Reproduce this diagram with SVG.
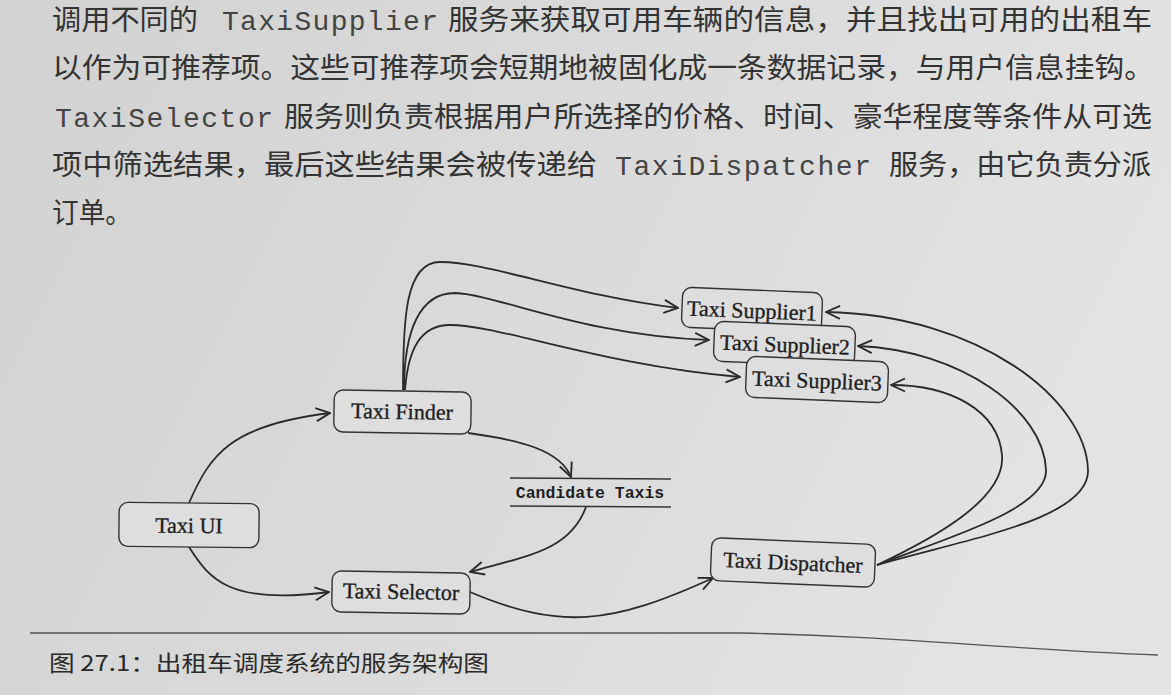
<svg xmlns="http://www.w3.org/2000/svg" width="1171" height="695" viewBox="0 0 1171 695">
<defs>
<linearGradient id="bg" x1="0" y1="0" x2="1" y2="0.3">
<stop offset="0" stop-color="#d2d2d2"/>
<stop offset="0.6" stop-color="#dbdbdb"/>
<stop offset="1" stop-color="#e3e3e3"/>
</linearGradient>
<marker id="arr" viewBox="0 0 16 16" refX="15" refY="8" markerWidth="16" markerHeight="16" markerUnits="userSpaceOnUse" orient="auto">
<path d="M1,1.5 L15,8 L1,14.5" fill="none" stroke="#2b2b2b" stroke-width="1.9" stroke-linejoin="miter"/>
</marker>
</defs>
<style>
.body{font-family:"Noto Sans CJK SC",sans-serif;font-size:28px;fill:#333;}
.mono{font-family:"Liberation Mono",monospace;font-size:28px;fill:#444;}
.node rect{fill:#dedede;stroke:#333;stroke-width:1.4;}
.node text{font-family:"Liberation Serif",serif;font-size:22px;fill:#1e1e1e;stroke:#1e1e1e;stroke-width:0.35;text-anchor:middle;}
.conn path{fill:none;stroke:#2b2b2b;stroke-width:1.8;marker-end:url(#arr);}
.cap{font-family:"Noto Sans CJK SC",sans-serif;font-size:22px;fill:#2a2a2a;}
</style>
<rect x="0" y="0" width="1171" height="695" fill="url(#bg)"/>

<!-- body text -->
<text class="body" x="52" y="30" textLength="146" lengthAdjust="spacingAndGlyphs">调用不同的</text>
<text class="mono" x="222" y="30" textLength="216" lengthAdjust="spacing">TaxiSupplier</text>
<text class="body" x="448" y="30" textLength="704" lengthAdjust="spacingAndGlyphs">服务来获取可用车辆的信息，并且找出可用的出租车</text>
<text class="body" x="52" y="78" textLength="1102" lengthAdjust="spacingAndGlyphs">以作为可推荐项。这些可推荐项会短期地被固化成一条数据记录，与用户信息挂钩。</text>
<text class="mono" x="55" y="127" textLength="218" lengthAdjust="spacing">TaxiSelector</text>
<text class="body" x="284" y="127" textLength="868" lengthAdjust="spacingAndGlyphs">服务则负责根据用户所选择的价格、时间、豪华程度等条件从可选</text>
<text class="body" x="52" y="175" textLength="545" lengthAdjust="spacingAndGlyphs">项中筛选结果，最后这些结果会被传递给</text>
<text class="mono" x="615" y="175" textLength="256" lengthAdjust="spacing">TaxiDispatcher</text>
<text class="body" x="889" y="175" textLength="262" lengthAdjust="spacingAndGlyphs">服务，由它负责分派</text>
<text class="body" x="52" y="223" textLength="80" lengthAdjust="spacingAndGlyphs">订单。</text>

<!-- connectors -->
<g id="connectors" class="conn">
<path d="M189,503 C210,455 230,425 330,413"/>
<path d="M189,547 C210,580 230,605 329,592"/>
<path d="M468,433 C520,440 560,450 571,477"/>
<path d="M586,507 C570,550 530,555 470,572"/>
<path d="M470,592 C560,630 610,625 713,578"/>
<path d="M403,390 C403,320 405,262 440,262 C490,262 570,295 678,308"/>
<path d="M404,390 C404,330 420,293 455,293 C500,295 580,335 709,340"/>
<path d="M405,390 C408,350 420,325 450,325 C500,325 600,365 740,377"/>
<path d="M877,565 C960,540 1090,520 1088,470 C1086,400 980,315 826,312"/>
<path d="M877,565 C940,540 1048,510 1046,470 C1044,410 960,350 858,346"/>
<path d="M877,565 C930,540 1006,500 1002,455 C998,410 950,385 891,385"/>
</g>

<!-- nodes -->
<g id="taxi-ui" class="node" transform="rotate(0.6 189 525)">
<rect x="119" y="503" width="140" height="44" rx="9"/>
<text x="189" y="533">Taxi UI</text>
</g>
<g id="taxi-finder" class="node" transform="rotate(1 402 412)">
<rect x="334" y="391" width="137" height="42" rx="9"/>
<text x="402" y="419">Taxi Finder</text>
</g>
<g id="taxi-selector" class="node" transform="rotate(1 401 592)">
<rect x="332" y="572" width="138" height="41" rx="9"/>
<text x="401" y="599">Taxi Selector</text>
</g>
<g id="candidate-taxis" class="node">
<line x1="510" y1="478" x2="671" y2="479" stroke="#333" stroke-width="1.4"/>
<line x1="510" y1="506" x2="671" y2="507" stroke="#333" stroke-width="1.4"/>
<text x="590" y="498" style="font-family:'Liberation Mono',monospace;font-weight:bold;font-size:16.5px;stroke-width:0;">Candidate Taxis</text>
</g>
<g id="taxi-supplier1" class="node" transform="rotate(2.3 752 310)">
<rect x="682" y="290" width="140" height="40" rx="9"/>
<text x="752" y="318">Taxi Supplier1</text>
</g>
<g id="taxi-supplier2" class="node" transform="rotate(2.3 785 344)">
<rect x="714" y="324" width="141" height="40" rx="9"/>
<text x="785" y="352">Taxi Supplier2</text>
</g>
<g id="taxi-supplier3" class="node" transform="rotate(2.3 817 380)">
<rect x="746" y="359" width="142" height="41" rx="9"/>
<text x="817" y="388">Taxi Supplier3</text>
</g>
<g id="taxi-dispatcher" class="node" transform="rotate(2.4 793 562)">
<rect x="711" y="541" width="164" height="43" rx="9"/>
<text x="793" y="570">Taxi Dispatcher</text>
</g>

<!-- caption -->
<path d="M30,633 L740,633 C900,636 1000,649 1158,655" fill="none" stroke="#555" stroke-width="1.3"/>
<text class="cap" x="49" y="671" textLength="440" lengthAdjust="spacingAndGlyphs">图 27.1：出租车调度系统的服务架构图</text>
</svg>
